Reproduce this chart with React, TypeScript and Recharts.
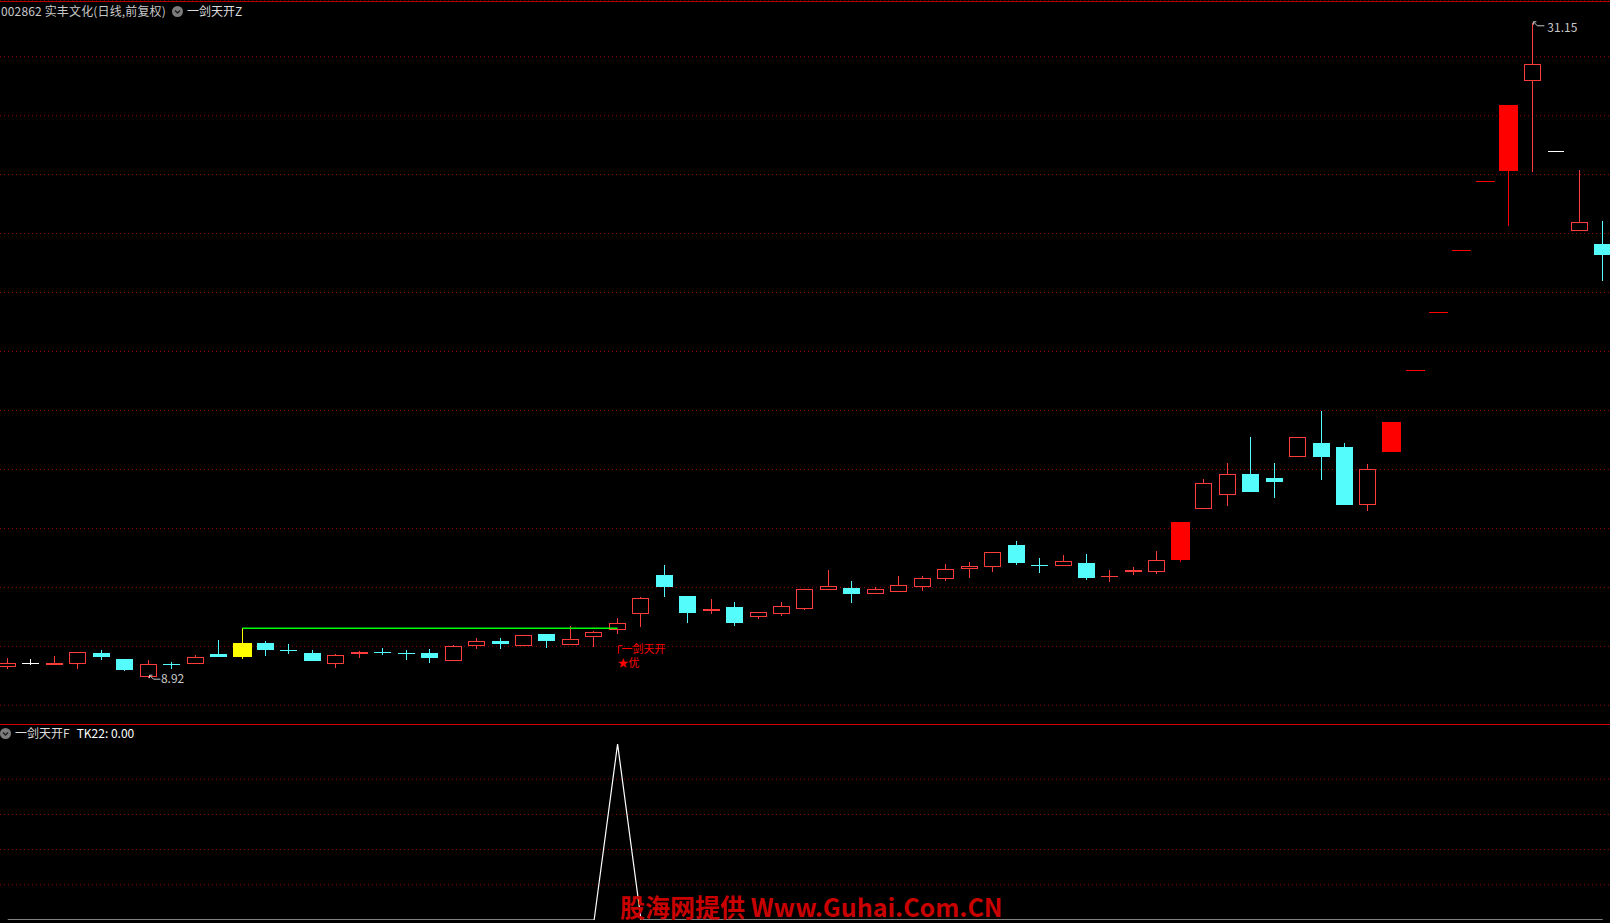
import React from "react";
import {
  ComposedChart,
  LineChart,
  Bar,
  Line,
  XAxis,
  YAxis,
  CartesianGrid,
  ReferenceLine,
  ReferenceDot,
} from "recharts";

// 日线 OHLC，从左到右
const opens = [
  9.31, 9.43, 9.38, 9.39, 9.77, 9.57, 8.96, 9.41, 9.39, 9.74,
  9.65, 10.11, 9.89, 9.77, 9.41, 9.75, 9.81, 9.76, 9.77, 9.49,
  10.0, 10.18, 10.02, 10.42, 10.06, 10.33, 10.56, 11.11, 12.42, 11.71,
  11.19, 11.33, 10.98, 11.11, 11.28, 11.9, 11.98, 11.76, 11.83, 12.02,
  12.29, 12.61, 12.7, 13.44, 12.77, 12.71, 12.83, 12.34, 12.51, 12.52,
  12.94, 14.65, 15.12, 15.84, 15.71, 16.41, 16.9, 16.76, 14.78, 16.6,
  19.37, 21.31, 23.44, 25.78, 26.13, 29.17, 26.77, 24.08, 23.65,
];
const highs = [
  9.59, 9.57, 9.67, 9.8, 9.88, 9.57, 9.53, 9.46, 9.71, 10.21,
  10.61, 10.18, 10.08, 9.88, 9.74, 9.85, 9.94, 9.88, 9.91, 10.04,
  10.27, 10.28, 10.37, 10.42, 10.69, 10.52, 10.96, 11.67, 12.76, 11.71,
  11.61, 11.5, 11.15, 11.5, 11.93, 12.59, 12.22, 12.0, 12.39, 12.39,
  12.79, 12.86, 13.19, 13.57, 13.0, 13.1, 13.13, 12.59, 12.69, 13.23,
  14.23, 15.68, 16.22, 17.1, 16.22, 17.11, 17.98, 16.9, 16.18, 17.61,
  19.37, 21.31, 23.44, 25.78, 28.36, 31.15, 26.77, 26.16, 24.43,
];
const lows = [
  9.24, 9.37, 9.38, 9.24, 9.55, 9.17, 8.92, 9.24, 9.39, 9.65,
  9.58, 9.67, 9.74, 9.5, 9.26, 9.61, 9.71, 9.55, 9.44, 9.49,
  9.92, 9.91, 10.02, 9.94, 10.06, 9.99, 10.43, 10.67, 11.68, 10.8,
  11.11, 10.7, 10.94, 11.04, 11.24, 11.9, 11.48, 11.76, 11.83, 11.89,
  12.23, 12.33, 12.53, 12.77, 12.5, 12.71, 12.26, 12.19, 12.43, 12.45,
  12.87, 14.65, 14.77, 15.24, 15.04, 16.41, 15.65, 14.8, 14.6, 16.6,
  19.37, 21.31, 23.44, 25.78, 24.27, 26.1, 26.77, 24.08, 22.4,
];
const closes = [
  9.43, 9.43, 9.43, 9.8, 9.65, 9.21, 9.39, 9.4, 9.63, 9.65,
  10.11, 9.88, 9.88, 9.5, 9.71, 9.81, 9.8, 9.75, 9.61, 10.0,
  10.17, 10.09, 10.37, 10.18, 10.24, 10.49, 10.78, 11.64, 12.02, 11.14,
  11.27, 10.8, 11.15, 11.36, 11.93, 12.04, 11.78, 11.93, 12.07, 12.31,
  12.61, 12.71, 13.19, 12.84, 12.76, 12.88, 12.33, 12.39, 12.59, 12.94,
  14.23, 15.53, 15.83, 15.24, 15.58, 17.11, 16.43, 14.8, 16.01, 17.61,
  19.37, 21.31, 23.44, 25.78, 28.36, 29.74, 26.77, 24.38, 23.28,
];
// 副图 TK22
const tk22 = [
  0, 0, 0, 0, 0, 0, 0, 0, 0, 0,
  0, 0, 0, 0, 0, 0, 0, 0, 0, 0,
  0, 0, 0, 0, 0, 0, 1, 0, 0, 0,
  0, 0, 0, 0, 0, 0, 0, 0, 0, 0,
  0, 0, 0, 0, 0, 0, 0, 0, 0, 0,
  0, 0, 0, 0, 0, 0, 0, 0, 0, 0,
  0, 0, 0, 0, 0, 0, 0, 0, 0,
];
const priceTicks = [8, 10, 12, 14, 16, 18, 20, 22, 24, 26, 28, 30];
const tkTicks = [0.2, 0.4, 0.6, 0.8];

const startIdx = 10; // 一剑天开 起点K线
const signalIdx = 26; // 突破信号
const lowIdx = 6;
const highIdx = 65;

const stockTitle = "002862 实丰文化(日线,前复权)";
const mainName = "一剑天开Z";
const subName = "一剑天开F";
const subValue = "TK22: 0.00";
const signalText = "一剑天开";
const signalText2 = "★优";
const watermark = "股海网提供 Www.Guhai.Com.CN";

const RED = "#ff3c3c";
const RED_FILL = "#ff0000";
const CYAN = "#54fcfc";
const WHITE = "#ffffff";
const YELLOW = "#ffff00";
const GRID = "#a00000";
const FONT = '"Noto Sans CJK SC", "Noto Sans", sans-serif';

const limitPrice = (p: number) => Math.round(p * 110) / 100;

function kindOf(i: number) {
  if (i === startIdx) return "start";
  if (i > 0 && closes[i] >= limitPrice(closes[i - 1]) - 0.005) return "limit";
  if (closes[i] > opens[i]) return "up";
  if (closes[i] < opens[i]) return "down";
  return "flat";
}

const colorOf = (kind: string) =>
  kind === "start" ? YELLOW : kind === "limit" ? RED_FILL : kind === "up" ? RED : kind === "down" ? CYAN : WHITE;

const data = opens.map((o, i) => ({
  i,
  o,
  h: highs[i],
  l: lows[i],
  c: closes[i],
  kind: kindOf(i),
  flat: highs[i] === lows[i] ? closes[i] : null,
}));

const subData = tk22.map((v, i) => ({ i, v }));

// chart geometry
const N = opens.length;
const BAND = 23.456;
const CHART_W = N * BAND;
const CHART_LEFT = 8 - BAND / 2;
const MAIN_H = 725;

function Candle(props: any) {
  const { x, y, width, height, payload } = props;
  const { o, h, l, c, kind } = payload;
  if (h === l || !height) return <g />;
  const top = height >= 0 ? y : y + height;
  const hh = Math.abs(height);
  const k = hh / (h - l);
  const yO = top + (h - o) * k;
  const yC = top + (h - c) * k;
  const bTop = Math.min(yO, yC);
  const bBot = Math.max(yO, yC);
  const cx = x + width / 2;
  const col = colorOf(kind);
  const wide = kind === "limit" || kind === "start";
  const bx = wide ? x - 1 : x;
  const bw = wide ? width + 2 : width;

  if (kind === "up") {
    return (
      <g shapeRendering="crispEdges">
        <line x1={cx} x2={cx} y1={top} y2={bTop} stroke={col} />
        <line x1={cx} x2={cx} y1={bBot} y2={top + hh} stroke={col} />
        {bBot - bTop < 2 ? (
          <rect x={bx} y={bTop} width={bw} height={Math.max(bBot - bTop, 1.5)} fill={col} />
        ) : (
          <rect x={bx + 0.5} y={bTop + 0.5} width={bw - 1} height={bBot - bTop - 1} fill="#000" stroke={col} />
        )}
      </g>
    );
  }
  return (
    <g shapeRendering="crispEdges">
      <line x1={cx} x2={cx} y1={top} y2={top + hh} stroke={col} />
      <rect x={bx} y={bTop} width={bw} height={Math.max(bBot - bTop, 1)} fill={col} />
    </g>
  );
}

function Dash(props: any) {
  const { cx, cy, payload, index } = props;
  if (cy == null || payload == null || payload.flat == null) return <g key={index} />;
  const w = payload.kind === "limit" ? 19 : 16;
  return (
    <line
      key={index}
      x1={cx - w / 2}
      x2={cx + w / 2}
      y1={cy}
      y2={cy}
      stroke={colorOf(payload.kind)}
      shapeRendering="crispEdges"
    />
  );
}

const priceTag = (text: string, arrowDy: number, textDx: number, textDy: number) => (props: any) => {
  const vb = props.viewBox;
  const cx = vb.x + vb.width / 2;
  const cy = vb.y + vb.height / 2;
  const ay = cy + arrowDy;
  return (
    <g>
      <path
        d={`M${cx + 1},${ay} l0,3 M${cx + 1},${ay} l3,0 M${cx + 1},${ay} l4,4 l7,0`}
        stroke="#c8c8c8"
        fill="none"
      />
      <text x={cx + textDx} y={cy + textDy} fill="#c8c8c8" fontSize={12} fontFamily={FONT}>
        {text}
      </text>
    </g>
  );
};

function SignalLabel(props: any) {
  const vb = props.viewBox;
  const cx = vb.x + vb.width / 2;
  const cy = vb.y + vb.height / 2;
  return (
    <g fill={RED_FILL} fontFamily={FONT}>
      <path d={`M${cx + 1},${cy + 20} L${cx + 1},${cy + 12} L${cx + 5},${cy + 12}`} stroke={RED_FILL} fill="none" />
      <text x={cx + 4} y={cy + 19} fontSize={11}>
        {signalText}
      </text>
      <text x={cx} y={cy + 33} fontSize={11}>
        {signalText2}
      </text>
    </g>
  );
}

function Icon() {
  return (
    <svg width={11} height={11} style={{ display: "block" }}>
      <circle cx={5.5} cy={5.5} r={5.5} fill="#7c7c7c" />
      <path d="M3,4.5 L5.5,7 L8,4.5" stroke="#202020" strokeWidth={1.5} fill="none" />
    </svg>
  );
}

export default function App() {
  return (
    <div
      style={{
        position: "fixed",
        left: 0,
        top: 0,
        width: 1610,
        height: 923,
        background: "#000",
        overflow: "hidden",
        fontFamily: FONT,
      }}
    >
      <div style={{ position: "absolute", left: CHART_LEFT, top: 0 }}>
        <ComposedChart width={CHART_W} height={MAIN_H} data={data} margin={{ top: 0, right: 0, bottom: 0, left: 0 }}>
          <CartesianGrid vertical={false} stroke={GRID} strokeDasharray="1 3" />
          <XAxis dataKey="i" type="category" scale="band" hide />
          <YAxis type="number" domain={[7.332, 31.923]} ticks={priceTicks} allowDataOverflow hide />
          <Bar dataKey={(d: any) => [d.l, d.h]} barSize={17} shape={Candle} isAnimationActive={false} />
          <Line
            dataKey="flat"
            stroke="transparent"
            dot={Dash}
            activeDot={false}
            connectNulls={false}
            isAnimationActive={false}
          />
          <ReferenceLine
            segment={[
              { x: startIdx, y: highs[startIdx] },
              { x: signalIdx, y: highs[startIdx] },
            ]}
            stroke="#00ff00"
            strokeWidth={1.5}
          />
          <ReferenceDot
            x={lowIdx}
            y={lows[lowIdx]}
            r={1}
            fill="none"
            stroke="none"
            label={priceTag(lows[lowIdx].toFixed(2), -3, 12.5, 5)}
          />
          <ReferenceDot
            x={highIdx}
            y={highs[highIdx]}
            r={1}
            fill="none"
            stroke="none"
            label={priceTag(highs[highIdx].toFixed(2), -1, 15, 9)}
          />
          <ReferenceDot x={signalIdx} y={lows[signalIdx]} r={1} fill="none" stroke="none" label={SignalLabel} />
        </ComposedChart>
      </div>

      <div style={{ position: "absolute", left: CHART_LEFT, top: 724 }}>
        <LineChart width={CHART_W} height={199} data={subData} margin={{ top: 20, right: 0, bottom: 3, left: 0 }}>
          <XAxis dataKey="i" type="category" scale="band" hide />
          <YAxis type="number" domain={[0, 1]} allowDataOverflow hide />
          {tkTicks.map((t) => (
            <ReferenceLine key={t} y={t} stroke={GRID} strokeDasharray="1 3" />
          ))}
          <Line dataKey="v" type="linear" stroke={WHITE} strokeWidth={1.2} dot={false} isAnimationActive={false} />
        </LineChart>
      </div>

      {/* frame lines */}
      <div style={{ position: "absolute", left: 0, top: 1, width: 1610, height: 1, background: "#b00000" }} />
      <div style={{ position: "absolute", left: 0, top: 724, width: 1610, height: 1, background: "#d00000" }} />

      <div
        style={{
          position: "absolute",
          left: 1,
          top: 4,
          height: 14,
          display: "flex",
          alignItems: "center",
          fontSize: 12,
          lineHeight: "14px",
          whiteSpace: "nowrap",
        }}
      >
        <span style={{ color: "#c8c8c8", letterSpacing: 0.15 }}>{stockTitle}</span>
        <span style={{ width: 6 }} />
        <Icon />
        <span style={{ width: 4 }} />
        <span style={{ color: "#dcdcdc" }}>{mainName}</span>
      </div>

      <div
        style={{
          position: "absolute",
          left: 0,
          top: 727,
          height: 12,
          display: "flex",
          alignItems: "center",
          fontSize: 12,
          lineHeight: "12px",
          whiteSpace: "nowrap",
        }}
      >
        <Icon />
        <span style={{ width: 4 }} />
        <span style={{ color: "#dcdcdc" }}>{subName}</span>
        <span style={{ width: 7 }} />
        <span style={{ color: "#ffffff" }}>{subValue}</span>
      </div>

      <div
        style={{
          position: "absolute",
          left: 620,
          top: 892,
          fontSize: 25,
          lineHeight: "28px",
          fontWeight: 700,
          color: "#c80000",
          whiteSpace: "nowrap",
        }}
      >
        {watermark}
      </div>
    </div>
  );
}
